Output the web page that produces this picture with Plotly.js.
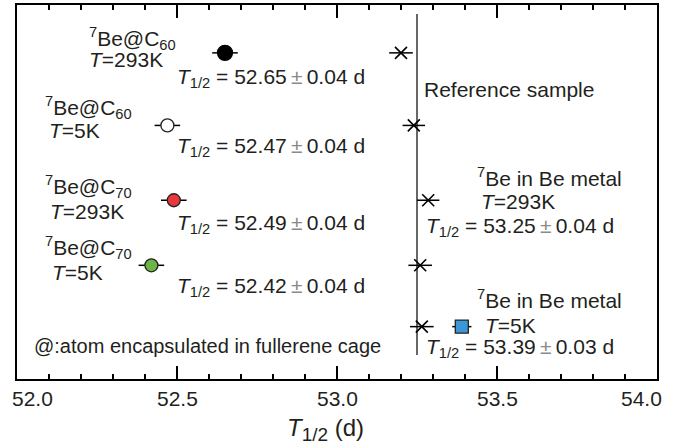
<!DOCTYPE html>
<html>
<head>
<meta charset="utf-8">
<script src="https://cdn.plot.ly/plotly-3.0.1.min.js"></script>
<style>html,body{margin:0;padding:0;background:#fff;}#chart{width:676px;height:444px;}</style>
</head>
<body>
<div id="chart"></div>
<script>
// ---- data ----
const sampleNames = ['<sup>7</sup>Be@C<sub>60</sub>', '<sup>7</sup>Be@C<sub>60</sub>', '<sup>7</sup>Be@C<sub>70</sub>', '<sup>7</sup>Be@C<sub>70</sub>', '<sup>7</sup>Be in Be metal'];
const sampleTemps = ['293K', '5K', '293K', '5K', '5K'];
const sampleHalfLife = [52.65, 52.47, 52.49, 52.42, 53.39];
const sampleErr = [0.04, 0.04, 0.04, 0.04, 0.03];
const sampleColors = ['#000000', '#ffffff', '#e8383d', '#6cb645', '#3a98d8'];
const sampleSymbols = ['circle', 'circle', 'circle', 'circle', 'square'];
const rowPos = [4.36, 3.39, 2.39, 1.52, 0.70];
const refHalfLife = [53.20, 53.24, 53.285, 53.26, 53.265];
const refErr = [0.037, 0.035, 0.035, 0.037, 0.037];
const refMean = 53.25;
const refLineSpan = [0.32, 4.88];
const metalRefValue = 53.25, metalRefErr = 0.04;
const tickVals = [52.0, 52.5, 53.0, 53.5, 54.0];
const tickText = ['52.0', '52.5', '53.0', '53.5', '54.0'];

// ---- geometry helpers (for text placement only) ----
const L = 16.5, R = 657, T = 5, B = 379;
const X = px => 52 + (px - L) / ((R - L) / 2);
const Y = py => (B - py) / ((B - T) / 5);

const FONT = '"Liberation Sans", Arial, Helvetica, sans-serif';
const FS = 21;
const TXT = '#231f20';

const traces = [];
// reference vertical line
traces.push({
  x: [refMean, refMean], y: refLineSpan, mode: 'lines',
  line: {color: '#000', width: 1.2}, hoverinfo: 'skip', showlegend: false
});
// reference crosses
traces.push({
  x: refHalfLife, y: rowPos, mode: 'markers', type: 'scatter',
  marker: {symbol: 'x-thin', size: 12, line: {color: '#000', width: 1.6}},
  error_x: {type: 'data', array: refErr, color: '#000', thickness: 1.5, width: 0},
  showlegend: false
});
// samples
for (let i = 0; i < sampleHalfLife.length; i++) {
  traces.push({
    x: [sampleHalfLife[i]], y: [rowPos[i]], mode: 'markers', type: 'scatter',
    marker: {symbol: sampleSymbols[i], size: sampleSymbols[i] === 'square' ? 13 : (i === 0 ? 15 : 13), color: sampleColors[i],
             line: {color: i === 0 ? '#000' : '#222', width: 1.3}},
    error_x: {type: 'data', array: [sampleErr[i]], color: '#000', thickness: 1.5, width: 0},
    showlegend: false
  });
}

const pm = '\u2009<span style="color:#8a8a8a">±</span>\u2009';
const hl = (v, e) => '<i>T</i><sub>1/2</sub> = ' + v.toFixed(2) + pm + e.toFixed(2) + ' d';

const ann = [];
function txt(text, px, py, opts) {
  ann.push(Object.assign({
    text: text, x: X(px), y: Y(py), xref: 'x', yref: 'y', xanchor: 'left', yanchor: 'middle',
    showarrow: false, font: {family: FONT, size: FS, color: TXT}, borderpad: 0
  }, opts || {}));
}
// sample labels
const nameLeft = [88, 44, 44, 44, 476];
const nameY = [38, 107, 186, 247, 299];
const tempLeft = [88, 48, 49, 51, 484];
const tempY = [59, 130, 211, 272, 325];
const hlLeft = [176, 176, 176, 176, 425];
const hlY = [78, 147, 224, 287, 348];
for (let i = 0; i < 5; i++) {
  txt(sampleNames[i], nameLeft[i], nameY[i]);
  txt('<i>T</i>=' + sampleTemps[i], tempLeft[i], tempY[i]);
  txt(hl(sampleHalfLife[i], sampleErr[i]), hlLeft[i], hlY[i]);
}
// Be metal 293K (reference sample itself)
txt('<sup>7</sup>Be in Be metal', 476, 177);
txt('<i>T</i>=293K', 480, 201);
txt(hl(metalRefValue, metalRefErr), 425, 227);
txt('Reference sample', 423, 89);
txt('@:atom encapsulated in fullerene cage', 33, 346, {font: {family: FONT, size: 20, color: TXT}});

// tick labels
tickVals.forEach((v, k) => {
  ann.push({
    text: tickText[k], x: v, y: 0, xref: 'x', yref: 'paper', yanchor: 'top', xanchor: 'center',
    yshift: -6, xshift: k === 0 ? 15.5 : (k === tickVals.length - 1 ? -16 : 0),
    showarrow: false, font: {family: FONT, size: FS, color: TXT}
  });
});
// axis title
ann.push({
  text: '<i>T</i><sub><span style="font-size:19px">1/2</span></sub> (d)', x: (325 - L) / (R - L), y: 0, xref: 'paper', yref: 'paper',
  xanchor: 'center', yanchor: 'top', yshift: -33, showarrow: false,
  font: {family: FONT, size: 24, color: TXT}
});

const layout = {
  width: 676, height: 444,
  margin: {l: L, r: 676 - R, t: T, b: 444 - B},
  paper_bgcolor: '#fff', plot_bgcolor: '#fff',
  font: {family: FONT, size: FS, color: TXT},
  xaxis: {
    range: [52, 54], tickvals: tickVals, ticktext: tickText, showticklabels: false,
    ticks: 'inside', ticklen: 13, tickwidth: 1.3, tickcolor: '#000',
    minor: {dtick: 0.1, tick0: 52, ticks: 'inside', ticklen: 5, tickwidth: 1.3, tickcolor: '#000'},
    showline: true, linewidth: 2, linecolor: '#000', mirror: 'allticks',
    showgrid: false, zeroline: false, fixedrange: true
  },
  yaxis: {
    range: [0, 5], showticklabels: false, ticks: '', showline: true, linewidth: 2, linecolor: '#000',
    mirror: true, showgrid: false, zeroline: false, fixedrange: true
  },
  annotations: ann,
  showlegend: false
};

Plotly.newPlot('chart', traces, layout, {displayModeBar: false, staticPlot: true});
</script>
</body>
</html>
